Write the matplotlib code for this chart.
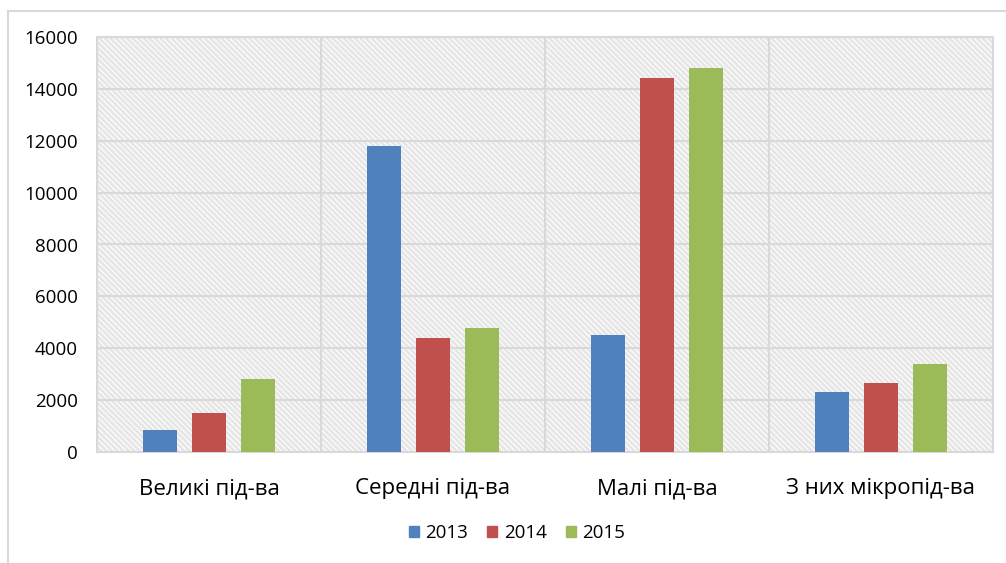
import numpy as np
import matplotlib.pyplot as plt
from matplotlib.patches import Rectangle
from matplotlib.lines import Line2D

categories = ['Великі під-ва', 'Середні під-ва', 'Малі під-ва', 'З них мікропід-ва']
years = ['2013', '2014', '2015']
values_2013 = [850, 11800, 4500, 2300]
values_2014 = [1500, 4400, 14400, 2650]
values_2015 = [2800, 4800, 14800, 3400]
colors = ['#4f81bd', '#c0504d', '#9bbb59']

plt.rcParams['font.family'] = ['Open Sans', 'DejaVu Sans']
plt.rcParams['hatch.linewidth'] = 2.0
plt.rcParams['hatch.color'] = '#e6e6e6'

fig = plt.figure(figsize=(10.06, 5.63), dpi=100)
ax = fig.add_axes([97 / 1006, 111 / 563, 896 / 1006, 415 / 563])

# hatched plot-area background
bg = Rectangle((0, 0), 1, 1, transform=ax.transAxes, facecolor='white',
               edgecolor='#e6e6e6', hatch='\\' * 6, linewidth=0, zorder=0)
ax.add_patch(bg)

x = np.arange(len(categories))
offset = 0.219
width = 0.152
for i, vals in enumerate([values_2013, values_2014, values_2015]):
    ax.bar(x + (i - 1) * offset, vals, width, color=colors[i], label=years[i], zorder=3)

ax.set_xlim(-0.5, len(categories) - 0.5)
ax.set_ylim(0, 16000)
ax.set_yticks(np.arange(0, 16001, 2000))
ax.set_xticks(x)
ax.set_xticklabels(categories, fontsize=16)
ax.tick_params(axis='y', length=0, pad=14, labelsize=13.5)
ax.tick_params(axis='x', length=0, pad=19)
ax.yaxis.grid(True, color='#d9d9d9', linewidth=1.5, zorder=1)
for b in np.arange(0.5, len(categories) - 0.5, 1):
    ax.axvline(b, color='#d9d9d9', linewidth=1.5, zorder=1)
ax.set_axisbelow(True)
for s in ax.spines.values():
    s.set_color('#d9d9d9')
    s.set_linewidth(1.5)

handles = [Rectangle((0, 0), 1, 1, color=c) for c in colors]
fig.legend(handles, years, loc='center', bbox_to_anchor=(517 / 1006, 1 - 533 / 563),
           ncol=3, frameon=False, fontsize=13.5, handlelength=0.55, handleheight=0.55,
           handletextpad=0.35, columnspacing=1.0)

# outer chart border (top and left visible)
fig.add_artist(Line2D([8 / 1006, 1], [1 - 11 / 563, 1 - 11 / 563], color='#d9d9d9', linewidth=1.5))
fig.add_artist(Line2D([8 / 1006, 8 / 1006], [0, 1 - 11 / 563], color='#d9d9d9', linewidth=1.5))

fig.savefig('out.png', dpi=100)
